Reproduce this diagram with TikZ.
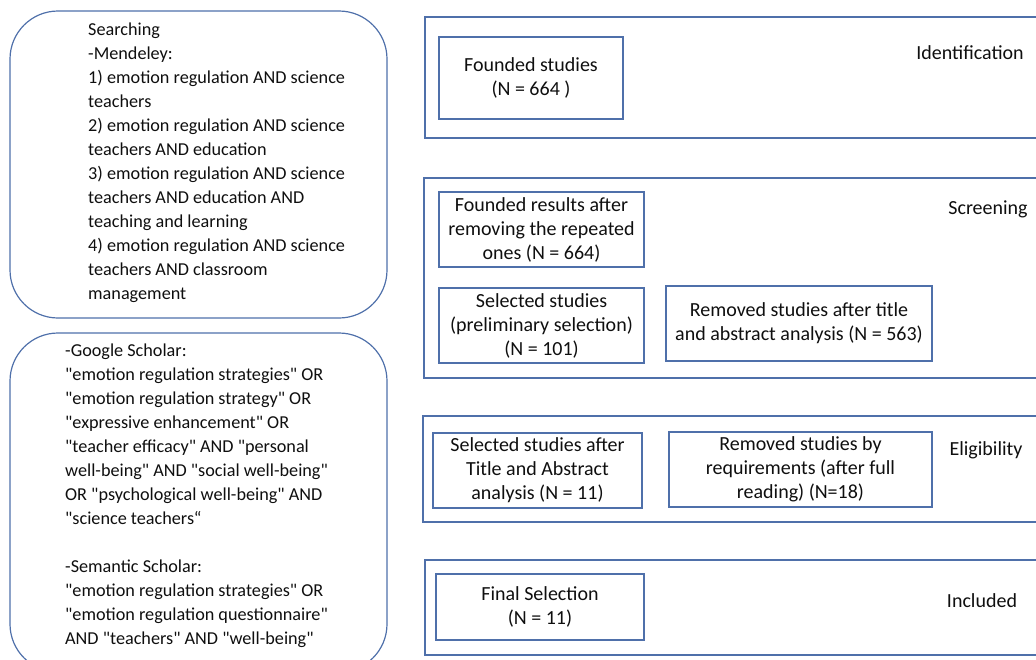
\documentclass[tikz,border=0pt]{standalone}
\usepackage{fontspec}
\setmainfont{Carlito}[Ligatures=TeXOff]
\definecolor{frame}{RGB}{79,112,170}
\definecolor{txt}{RGB}{15,15,15}
\begin{document}
\begin{tikzpicture}[x=1pt,y=-1pt,
  every node/.style={text=txt,font=\fontsize{18.2}{24}\selectfont},
  stage/.style={draw=frame,line width=1.3pt},
  box/.style={draw=frame,line width=1.3pt,inner sep=0pt,align=center,font=\fontsize{20}{24}\selectfont},
  search/.style={draw=frame,line width=1.2pt,rounded corners=48pt},
  lbl/.style={inner sep=0pt,font=\fontsize{20}{24}\selectfont}]
\useasboundingbox (0,0) rectangle (1036,659);
\begin{scope}
\clip (0,0) rectangle (1036,659);
% left search boxes
\draw[search] (10,11) rectangle (387,318);
\draw[search] (10,333) rectangle (387,672);
% stage frames
\draw[stage] (425,17) rectangle (1050,138);
\draw[stage] (424,178) rectangle (1050,378);
\draw[stage] (423,416) rectangle (1050,522);
\draw[stage] (425,560) rectangle (1050,655);
\end{scope}
\node[inner sep=0pt,anchor=north west,align=left] (s1) at (88,23) {Searching\\-Mendeley:\\1) emotion regulation AND science\\teachers\\2) emotion regulation AND science\\teachers AND education\\3) emotion regulation AND science\\teachers AND education AND\\teaching and learning\\4) emotion regulation AND science\\teachers AND classroom\\management};
\node[inner sep=0pt,anchor=north west,align=left] (s2) at (65,344) {-Google Scholar:\\"emotion regulation strategies" OR\\"emotion regulation strategy" OR\\"expressive enhancement" OR\\"teacher efficacy" AND "personal\\well-being" AND "social well-being"\\OR "psychological well-being" AND\\"science teachers“\\\\-Semantic Scholar:\\"emotion regulation strategies" OR\\"emotion regulation questionnaire"\\AND "teachers" AND "well-being"};
% inner boxes
\node[box,minimum width=184pt,minimum height=82pt] (found) at (531,78) {Founded studies\\(N = 664 )};
\node[box,minimum width=205pt,minimum height=75pt] (rep) at (541.5,229.5) {Founded results after\\removing the repeated\\ones (N = 664)};
\node[box,minimum width=205pt,minimum height=75pt] (sel) at (541.5,325.5) {Selected studies\\(preliminary selection)\\(N = 101)};
\node[box,minimum width=266pt,minimum height=75pt] (rem) at (799,323.5) {Removed studies after title\\and abstract analysis (N = 563)};
\node[box,minimum width=209pt,minimum height=75pt] (selb) at (537.5,470.5) {Selected studies after\\Title and Abstract\\analysis (N = 11)};
\node[box,minimum width=263pt,minimum height=75pt] (remb) at (800.5,469.5) {Removed studies by\\requirements (after full\\reading) (N=18)};
\node[box,minimum width=208pt,minimum height=66pt] (fin) at (540,607) {Final Selection\\(N = 11)};
% stage labels
\node[lbl] (lid) at (970,53) {Identification};
\node[lbl] (lsc) at (988,209) {Screening};
\node[lbl] (lel) at (986,450) {Eligibility};
\node[lbl] (lin) at (982,601) {Included};
\end{tikzpicture}
\end{document}
